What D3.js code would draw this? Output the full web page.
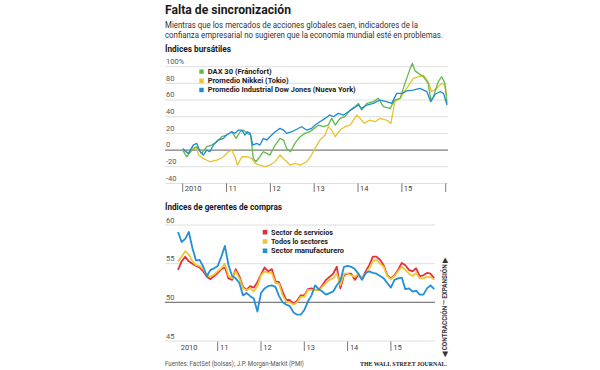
<!DOCTYPE html>
<html>
<head>
<meta charset="utf-8">
<script src="https://cdn.jsdelivr.net/npm/d3@7"></script>
<style>
  body { margin: 0; background: #fff; }
  svg { display: block; }
  text { font-family: Roboto, "Open Sans", sans-serif; fill: #333; }
</style>
</head>
<body>
<svg id="chart" width="600" height="370"></svg>
<script>
  // --- data ---
  var yearTicks = [2010, 2011, 2012, 2013, 2014, 2015, 2016];
  var topYearLabels = ["2010", "11", "12", "13", "14", "15", ""];
  var pmiYearLabels = ["2010", "11", "12", "13", "14", "15"];
  var stockTicks = [100, 80, 60, 40, 20, 0, -20, -40];
  var pmiTicks = [60, 55, 50, 45];

  // stock index change since Jan 2010, % : [fractional year, value]
  var dax = [[2010.00,0],[2010.09,-8],[2010.21,0],[2010.32,4],[2010.43,-4],[2010.55,4],[2010.66,6],[2010.78,10],[2010.89,16],[2011.00,18],[2011.12,22],[2011.22,14],[2011.31,22],[2011.38,24],[2011.48,20],[2011.55,18],[2011.61,-10],[2011.67,-14],[2011.76,-8],[2011.84,-2],[2011.92,-4],[2011.99,-6],[2012.11,6],[2012.22,14],[2012.30,12],[2012.37,2],[2012.46,-2],[2012.56,8],[2012.68,16],[2012.79,20],[2012.90,22],[2013.00,26],[2013.10,30],[2013.21,28],[2013.32,30],[2013.40,38],[2013.48,30],[2013.59,38],[2013.70,40],[2013.82,48],[2013.93,52],[2014.01,56],[2014.08,48],[2014.20,56],[2014.35,58],[2014.46,62],[2014.58,52],[2014.73,50],[2014.84,60],[2014.96,62],[2015.07,80],[2015.19,98],[2015.24,104],[2015.30,95],[2015.38,92],[2015.49,88],[2015.60,80],[2015.66,60],[2015.72,64],[2015.83,82],[2015.91,88],[2015.98,80],[2016.03,56]];
  var nikkei = [[2010.00,0],[2010.13,-4],[2010.24,4],[2010.32,2],[2010.36,-6],[2010.47,-10],[2010.62,-14],[2010.78,-12],[2010.93,-8],[2011.04,-2],[2011.12,0],[2011.19,-8],[2011.25,-18],[2011.35,-8],[2011.46,-8],[2011.57,-10],[2011.65,-16],[2011.76,-18],[2011.88,-20],[2011.99,-18],[2012.11,-14],[2012.22,-6],[2012.33,-12],[2012.45,-18],[2012.56,-16],[2012.68,-18],[2012.83,-14],[2012.94,-6],[2013.02,2],[2013.13,12],[2013.25,18],[2013.32,28],[2013.40,24],[2013.48,16],[2013.59,24],[2013.70,28],[2013.82,30],[2013.97,42],[2014.05,38],[2014.14,32],[2014.27,36],[2014.39,34],[2014.50,38],[2014.65,36],[2014.75,32],[2014.84,58],[2014.96,62],[2015.11,74],[2015.26,86],[2015.38,88],[2015.49,90],[2015.60,82],[2015.68,70],[2015.79,74],[2015.91,80],[2015.98,78],[2016.03,64]];
  var dow = [[2010.00,2],[2010.13,-4],[2010.24,6],[2010.32,8],[2010.40,-2],[2010.47,-6],[2010.55,0],[2010.62,-2],[2010.70,6],[2010.81,12],[2010.93,14],[2011.00,18],[2011.12,22],[2011.19,20],[2011.27,24],[2011.35,24],[2011.42,18],[2011.48,22],[2011.54,20],[2011.60,6],[2011.69,8],[2011.76,6],[2011.84,14],[2011.92,12],[2011.99,16],[2012.11,22],[2012.22,26],[2012.30,24],[2012.37,20],[2012.49,22],[2012.60,25],[2012.71,28],[2012.83,24],[2012.94,26],[2013.02,30],[2013.13,34],[2013.25,38],[2013.36,42],[2013.44,40],[2013.55,44],[2013.67,42],[2013.78,46],[2013.89,50],[2014.01,54],[2014.08,50],[2014.20,54],[2014.35,56],[2014.50,60],[2014.65,58],[2014.77,56],[2014.88,68],[2015.00,68],[2015.11,71],[2015.26,72],[2015.41,74],[2015.57,70],[2015.66,58],[2015.76,67],[2015.87,70],[2015.95,68],[2016.03,54]];

  // monthly PMI, Jan 2010 .. Dec 2015
  var services = [54.2,55.3,55.9,55.3,55.0,54.7,54.5,54.0,53.3,53.0,53.4,53.8,54.3,54.5,53.1,52.9,54.3,53.4,52.0,51.6,52.1,51.9,52.6,53.6,54.5,54.0,54.3,52.7,52.6,51.4,50.3,50.3,49.8,50.2,50.9,50.9,51.7,51.8,51.6,51.6,52.2,52.9,53.3,53.7,54.6,51.8,53.5,53.7,53.7,52.9,53.6,53.0,54.0,54.8,55.9,55.9,55.5,54.8,53.5,53.1,53.5,54.2,55.1,54.8,54.2,54.0,54.4,53.4,53.5,53.8,53.7,53.1];
  var allSectors = [55.3,55.9,56.6,56.2,55.3,54.8,54.7,54.3,53.5,53.3,53.6,54.0,54.4,55.0,53.4,53.1,54.0,53.1,51.8,51.6,51.8,51.4,52.1,53.5,54.0,53.8,53.8,52.5,52.4,50.9,50.1,50.0,49.7,50.0,50.7,50.7,51.6,51.6,51.6,51.5,52.0,52.5,52.9,53.1,53.7,52.2,53.7,53.7,53.5,53.3,53.7,53.0,53.7,54.4,55.3,55.5,55.0,54.6,53.4,53.0,53.4,54.0,54.6,54.2,53.7,53.4,53.8,53.1,53.1,53.3,53.3,52.9];
  var manufacturing = [59.1,57.8,58.2,59.1,57.0,55.4,55.5,54.6,53.4,54.2,54.4,54.7,55.9,57.3,54.8,53.4,53.1,52.5,50.9,51.2,50.8,50.5,48.8,51.2,51.8,52.1,52.2,52.0,50.8,50.0,49.7,49.5,48.7,48.4,48.4,49.0,50.1,50.9,52.2,51.7,51.4,51.0,51.2,51.4,52.2,52.8,54.6,54.7,54.6,54.3,53.7,52.9,53.8,54.0,53.8,53.7,53.4,53.1,52.5,51.9,52.9,53.1,53.2,51.7,51.8,51.4,51.5,51.0,51.0,51.8,52.2,51.7];
  var pmiMonths = d3.range(services.length).map(function(i) { return 2010 + (i + 1) / 12; });

  var stockSeries = [
    { name: "DAX 30 (Fráncfort)", color: "#62b94a", data: dax, w: 64 },
    { name: "Promedio Nikkei (Tokio)", color: "#e8c32e", data: nikkei, w: 81 },
    { name: "Promedio Industrial Dow Jones (Nueva York)", color: "#1d8bd5", data: dow, w: 148 }
  ];
  var pmiSeries = [
    { name: "Sector de servicios", color: "#e2303d", data: services, w: 62 },
    { name: "Todos lo sectores", color: "#efc634", data: allSectors, w: 57 },
    { name: "Sector manufacturero", color: "#238fd6", data: manufacturing, w: 73 }
  ];

  var svg = d3.select("#chart");

  function label(x, y, s, size, weight, width) {
    var t = svg.append("text")
      .attr("x", x).attr("y", y)
      .style("font-size", size + "px")
      .style("font-weight", weight)
      .text(s);
    if (width) {
      t.attr("textLength", width).attr("lengthAdjust", "spacingAndGlyphs");
    }
    return t;
  }

  // --- headings ---
  label(165, 13.5, "Falta de sincronización", 12.5, "bold", 126).style("fill", "#1a1a1a");
  label(165, 27.5, "Mientras que los mercados de acciones globales caen, indicadores de la", 8.5, "normal", 253);
  label(165, 37.5, "confianza empresarial no sugieren que la economía mundial esté en problemas.", 8.5, "normal", 278);
  label(165, 52, "Índices bursátiles", 8.5, "bold", 66).style("fill", "#1a1a1a");
  label(165, 209.5, "Índices de gerentes de compras", 8.5, "bold", 117).style("fill", "#1a1a1a");

  // --- top chart: stock indexes ---
  var x1 = d3.scaleLinear().domain([2010, 2016]).range([182.7, 445.7]);
  var y1 = d3.scaleLinear().domain([-40, 100]).range([183.4, 66.7]);

  var stockG = svg.append("g");
  stockG.selectAll("line.grid").data(stockTicks).enter().append("line")
    .attr("x1", 165).attr("x2", 448)
    .attr("y1", function(d) { return y1(d); }).attr("y2", function(d) { return y1(d); })
    .attr("stroke", function(d) { return d === 0 ? "#7d7d7d" : "#d6d6d6"; })
    .attr("stroke-width", function(d) { return d === 0 ? 1.2 : 0.8; });
  stockG.selectAll("text.ylab").data(stockTicks).enter().append("text")
    .attr("x", 166).attr("y", function(d) { return y1(d) - 2.8; })
    .style("font-size", "7.5px").style("fill", "#555")
    .text(function(d) { return d === 100 ? "100%" : d; });

  stockG.selectAll("line.tick").data(yearTicks).enter().append("line")
    .attr("x1", function(d) { return x1(d); }).attr("x2", function(d) { return x1(d); })
    .attr("y1", 183.4).attr("y2", 192)
    .attr("stroke", "#555").attr("stroke-width", 0.8);
  stockG.selectAll("text.xlab").data(yearTicks).enter().append("text")
    .attr("x", function(d) { return x1(d) + 2; }).attr("y", 191)
    .style("font-size", "7.5px").style("fill", "#444")
    .text(function(d, i) { return topYearLabels[i]; });

  var line1 = d3.line()
    .x(function(d) { return x1(d[0]); })
    .y(function(d) { return y1(d[1]); });

  // yellow first, then green, blue on top
  [stockSeries[1], stockSeries[0], stockSeries[2]].forEach(function(s) {
    stockG.append("path")
      .attr("d", line1(s.data))
      .attr("fill", "none")
      .attr("stroke", s.color)
      .attr("stroke-width", 1.3)
      .attr("stroke-linejoin", "round");
  });

  stockSeries.forEach(function(s, i) {
    var yy = 74 + i * 9.2;
    svg.append("rect").attr("x", 199.3).attr("y", yy - 4.6).attr("width", 4.4).attr("height", 4.4).attr("fill", s.color);
    label(207.7, yy, s.name, 7.5, "bold", s.w).style("fill", "#1a1a1a");
  });

  // --- bottom chart: PMI ---
  var x2 = d3.scaleLinear().domain([2010, 2016]).range([174.4, 434.2]);
  var y2 = d3.scaleLinear().domain([45, 60]).range([341, 225]);

  var pmiG = svg.append("g");
  pmiG.selectAll("line.grid").data(pmiTicks).enter().append("line")
    .attr("x1", 165).attr("x2", 435)
    .attr("y1", function(d) { return y2(d); }).attr("y2", function(d) { return y2(d); })
    .attr("stroke", function(d) { return d === 50 ? "#7d7d7d" : "#d6d6d6"; })
    .attr("stroke-width", function(d) { return d === 50 ? 1.2 : 0.8; });
  pmiG.selectAll("text.ylab").data(pmiTicks).enter().append("text")
    .attr("x", 166).attr("y", function(d) { return y2(d) - 2.2; })
    .style("font-size", "7.5px").style("fill", "#555")
    .text(function(d) { return d; });

  pmiG.selectAll("line.tick").data(yearTicks.slice(1, 6)).enter().append("line")
    .attr("x1", function(d) { return x2(d); }).attr("x2", function(d) { return x2(d); })
    .attr("y1", 341.5).attr("y2", 351)
    .attr("stroke", "#555").attr("stroke-width", 0.8);
  pmiG.selectAll("text.xlab").data(yearTicks.slice(0, 6)).enter().append("text")
    .attr("x", function(d, i) { return i === 0 ? x2(d) + 6.3 : x2(d) + 2.3; }).attr("y", 350)
    .style("font-size", "7.5px").style("fill", "#444")
    .text(function(d, i) { return pmiYearLabels[i]; });

  var line2 = d3.line()
    .x(function(d, i) { return x2(pmiMonths[i]); })
    .y(function(d) { return y2(d); });

  pmiSeries.forEach(function(s) {
    pmiG.append("path")
      .attr("d", line2(s.data))
      .attr("fill", "none")
      .attr("stroke", s.color)
      .attr("stroke-width", 1.8)
      .attr("stroke-linejoin", "round");
  });

  pmiSeries.forEach(function(s, i) {
    var yy = 234.7 + i * 9.3;
    svg.append("rect").attr("x", 262.7).attr("y", yy - 4.8).attr("width", 4.6).attr("height", 4.6).attr("fill", s.color);
    label(271, yy, s.name, 7.5, "bold", s.w).style("fill", "#1a1a1a");
  });

  // expansion / contraction side note
  var y50 = y2(50);
  svg.append("text")
    .attr("transform", "translate(446.5," + (y50 - 3.5) + ") rotate(-90)")
    .style("font-size", "6.5px").style("font-weight", "bold").style("fill", "#333")
    .attr("textLength", 41).attr("lengthAdjust", "spacingAndGlyphs")
    .text("EXPANSIÓN ▶");
  svg.append("line")
    .attr("x1", 443.8).attr("x2", 443.8).attr("y1", y50 - 2.5).attr("y2", y50 + 2.5)
    .attr("stroke", "#333").attr("stroke-width", 0.7);
  svg.append("text")
    .attr("transform", "translate(446.5," + (y50 + 3.5) + ") rotate(-90)")
    .attr("text-anchor", "end")
    .style("font-size", "6.5px").style("font-weight", "bold").style("fill", "#333")
    .attr("textLength", 51).attr("lengthAdjust", "spacingAndGlyphs")
    .text("◀ CONTRACCIÓN");

  // footer
  label(165, 366, "Fuentes: FactSet (bolsas); J.P. Morgan-Markit (PMI)", 6.5, "normal", 139).style("fill", "#555");
  label(360, 366, "THE WALL STREET JOURNAL.", 6.8, "bold", 87)
    .style("font-family", "'Liberation Serif', 'DejaVu Serif', serif").style("fill", "#222");
</script>
</body>
</html>
